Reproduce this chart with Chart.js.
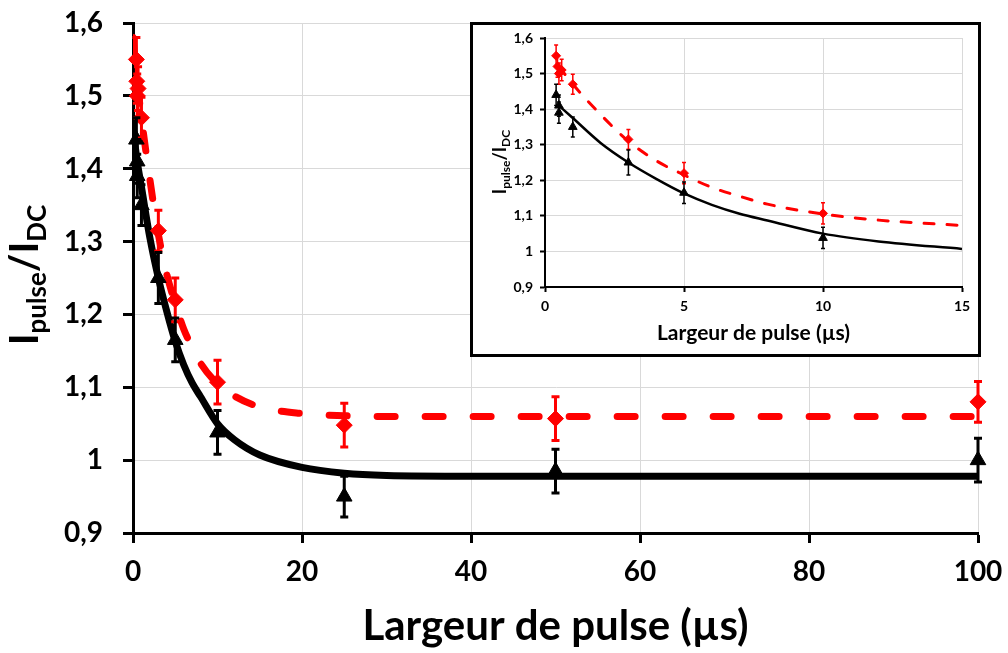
<!DOCTYPE html>
<html>
<head>
<meta charset="utf-8">
<script src="https://cdn.jsdelivr.net/npm/chart.js@4.4.1/dist/chart.umd.min.js"></script>
<style>
  html, body { margin: 0; padding: 0; background: #fff; }
  #wrap { position: relative; width: 1008px; height: 653px; overflow: hidden; }
  #mainChart { position: absolute; left: 0; top: 0; }
  #insetBox { position: absolute; left: 470px; top: 22px; width: 505px; height: 329px; border: 3px solid #000; background: #fff; }
  #insetChart { display: block; }
</style>
</head>
<body>
<div id="wrap">
  <canvas id="mainChart" width="1008" height="653"></canvas>
  <div id="insetBox"><canvas id="insetChart" width="505" height="329"></canvas></div>
</div>
<script>
// measured points: pulse width (µs) vs Ipulse/IDC, with error bars
var redX   = [0.4, 0.45, 0.5, 0.6, 1, 3, 5, 10, 25, 50, 100];
var redY   = [1.55, 1.52, 1.50, 1.51, 1.47, 1.315, 1.22, 1.107, 1.048, 1.057, 1.08];
var redErr = [0.03, 0.03, 0.03, 0.03, 0.028, 0.028, 0.03, 0.03, 0.03, 0.03, 0.028];

var blackX   = [0.4, 0.5, 0.5, 1, 3, 5, 10, 25, 50, 100];
var blackY   = [1.44, 1.41, 1.39, 1.35, 1.25, 1.165, 1.038, 0.95, 0.985, 1.0];
var blackErr = [0.03, 0.03, 0.03, 0.028, 0.035, 0.03, 0.03, 0.028, 0.03, 0.03];

// fitted curves
var fitX     = [0, 0.5, 1, 2, 3, 4, 5, 6, 7, 8, 10, 12, 15, 20, 25, 30, 40, 60, 80, 100];
var blackFit = [1.455, 1.41, 1.375, 1.305, 1.25, 1.204, 1.163, 1.131, 1.106, 1.087, 1.05, 1.028, 1.007, 0.99, 0.982, 0.979, 0.978, 0.978, 0.978, 0.978];
var redFit   = [1.58, 1.52, 1.47, 1.385, 1.31, 1.255, 1.215, 1.18, 1.155, 1.133, 1.105, 1.088, 1.073, 1.064, 1.061, 1.06, 1.06, 1.06, 1.06, 1.06];

var yTicks = [0.9, 1.6, 0.1];   // min, max, step

function pts(xs, ys, errs) {
  return xs.map(function(x, i) { return { x: x, y: ys[i], e: errs ? errs[i] : 0 }; });
}
function upTo(list, lo, hi) {
  return list.filter(function(p) { return p.x >= lo && p.x <= hi; });
}
function commaFmt(v) {
  return String(Math.round(v * 10) / 10).replace('.', ',');
}

var errorBars = {
  id: 'errorBars',
  afterDatasetsDraw: function(chart, args, o) {
    var ctx = chart.ctx, ys = chart.scales.y;
    chart.data.datasets.forEach(function(ds, i) {
      if (!ds.withErr) return;
      var meta = chart.getDatasetMeta(i);
      ctx.save();
      ctx.strokeStyle = ds.borderColor;
      ctx.lineWidth = o.width;
      meta.data.forEach(function(el, j) {
        var d = ds.data[j];
        var top = ys.getPixelForValue(d.y + d.e);
        var bot = ys.getPixelForValue(d.y - d.e);
        ctx.beginPath();
        ctx.moveTo(el.x, top); ctx.lineTo(el.x, bot);
        ctx.moveTo(el.x - o.cap, top); ctx.lineTo(el.x + o.cap, top);
        ctx.moveTo(el.x - o.cap, bot); ctx.lineTo(el.x + o.cap, bot);
        ctx.stroke();
      });
      ctx.restore();
    });
  }
};

// rotated y title with subscripts: I_pulse / I_DC
var yTitle = {
  id: 'yTitle',
  afterDraw: function(chart, args, o) {
    var ctx = chart.ctx;
    var parts = [['I', o.big, 0], ['pulse', o.small, o.shift], ['/', o.big, 0], ['I', o.big, 0], ['DC', o.small, o.shift]];
    ctx.save();
    var total = 0;
    parts.forEach(function(p) {
      ctx.font = 'bold ' + p[1] + 'px Lato';
      p.push(ctx.measureText(p[0]).width);
      total += p[3];
    });
    ctx.translate(o.x, o.y);
    ctx.rotate(-Math.PI / 2);
    ctx.fillStyle = '#000';
    ctx.textBaseline = 'alphabetic';
    var pos = -total / 2;
    parts.forEach(function(p) {
      ctx.font = 'bold ' + p[1] + 'px Lato';
      ctx.fillText(p[0], pos, p[2]);
      pos += p[3];
    });
    ctx.restore();
  }
};

function axes(s) {
  var gridCommon = { color: '#d9d9d9', lineWidth: 1, tickLength: s.tick, tickColor: '#000', tickWidth: s.axisW };
  return {
    x: {
      type: 'linear', min: 0, max: s.xMax,
      ticks: { stepSize: s.xStep, font: { size: s.tickFont, weight: 'bold' }, color: '#000', padding: s.xPad, maxRotation: 0, autoSkip: false },
      grid: gridCommon,
      border: { color: '#000', width: s.axisW },
      title: { display: true, text: 'Largeur de pulse (µs)', font: { size: s.titleFont, weight: 'bold' }, color: '#000', padding: { top: 0, bottom: s.titlePad } },
      afterFit: function(sc) { sc.height = s.bottomH; sc.paddingLeft = 0; sc.paddingRight = 0; }
    },
    y: {
      min: yTicks[0], max: yTicks[1],
      ticks: { stepSize: yTicks[2], callback: commaFmt, font: { size: s.tickFont, weight: 'bold' }, color: '#000', padding: s.yPad },
      grid: gridCommon,
      border: { color: '#000', width: s.axisW },
      afterFit: function(sc) { sc.width = s.leftW; sc.paddingTop = 0; sc.paddingBottom = 0; }
    }
  };
}

function build(canvasId, s, lo, hi) {
  var redPts = upTo(pts(redX, redY, redErr), 0, hi);
  var blackPts = upTo(pts(blackX, blackY, blackErr), 0, hi);
  return new Chart(document.getElementById(canvasId), {
    type: 'line',
    data: {
      datasets: [
        { data: upTo(pts(fitX, redFit), lo, hi), borderColor: '#ff0000', borderWidth: s.redW, borderDash: s.dash, borderCapStyle: 'round',
          pointRadius: 0, cubicInterpolationMode: 'monotone', order: 3 },
        { data: upTo(pts(fitX, blackFit), lo, hi), borderColor: '#000', borderWidth: s.blackW, borderCapStyle: 'butt',
          pointRadius: 0, cubicInterpolationMode: 'monotone', order: 2 },
        { data: redPts, withErr: true, showLine: false, pointStyle: 'rectRot', pointRadius: s.diamond,
          backgroundColor: '#ff0000', borderColor: '#ff0000', pointBorderWidth: 1, clip: false, order: 1 },
        { data: blackPts, withErr: true, showLine: false, pointStyle: 'triangle', pointRadius: s.tri,
          backgroundColor: '#000', borderColor: '#000', pointBorderWidth: 1, clip: false, order: 0 }
      ]
    },
    options: {
      responsive: false,
      animation: false,
      events: [],
      layout: { padding: { top: s.padTop, right: s.padRight, left: 0, bottom: 0 } },
      scales: axes(s),
      plugins: {
        legend: { display: false },
        tooltip: { enabled: false },
        errorBars: { width: s.errW, cap: s.cap },
        yTitle: s.yTitle
      }
    },
    plugins: [errorBars, yTitle]
  });
}

function draw() {
  Chart.defaults.font.family = 'Lato';
  build('mainChart', {
    xMax: 100, xStep: 20, tickFont: 28, titleFont: 42, tick: 10, axisW: 3,
    xPad: 12, yPad: 20, titlePad: 1, bottomH: 120, leftW: 133, padTop: 23, padRight: 30,
    redW: 7, blackW: 7, dash: [18, 30], diamond: 8, tri: 9, errW: 3, cap: 4,
    yTitle: { x: 38, y: 275, big: 40, small: 26, shift: 8 }
  }, 0, 100);
  build('insetChart', {
    xMax: 15, xStep: 5, tickFont: 14, titleFont: 21, tick: 5, axisW: 2,
    xPad: 6, yPad: 7, titlePad: 8, bottomH: 67, leftW: 72, padTop: 13, padRight: 16,
    redW: 3, blackW: 2.5, dash: [10, 13], diamond: 4.5, tri: 5, errW: 1.5, cap: 2,
    yTitle: { x: 33, y: 137, big: 18, small: 12, shift: 4 }
  }, 0.5, 15);
}

document.fonts.load('bold 28px Lato').then(draw, draw);
</script>
</body>
</html>
